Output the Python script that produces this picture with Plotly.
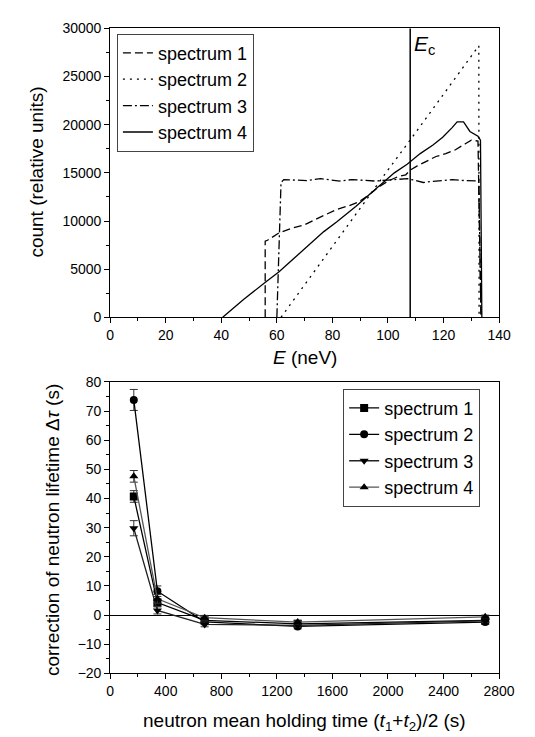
import plotly.graph_objects as go

# ---------------- top panel data (E in neV, counts) ----------------
s1_E = [55.8, 55.8, 56.6, 60.7, 65.3, 69.9, 73.4, 76.9, 81.5, 86.1, 89.6, 93.1, 96.5, 100.0,
        103.5, 106.4, 108.1, 110.4, 113.9, 117.3, 120.8, 124.3, 127.7, 130.0, 132.4, 133.5]
s1_C = [0, 7900, 8000, 8750, 9250, 9600, 10100, 10600, 11200, 11600, 12000, 12700, 13500, 14150,
        14600, 14800, 15300, 15700, 16200, 16700, 17000, 17400, 18000, 18400, 18300, 0]

s2_E = [61.5, 70.0, 80.0, 90.0, 100.0, 110.0, 120.0, 132.7, 132.8]
s2_C = [0, 3400, 7300, 11300, 15300, 19200, 23200, 28200, 0]

s3_E = [60.0, 61.5, 62.5, 67.6, 71.0, 75.7, 79.0, 82.7, 87.0, 91.0, 95.4, 100.0, 104.0, 107.0,
        110.0, 112.7, 115.5, 118.5, 123.1, 127.7, 132.7, 133.5]
s3_C = [0, 14000, 14300, 14250, 14200, 14400, 14250, 14150, 14300, 14200, 14150, 14250, 14300, 14400,
        14200, 14000, 14100, 14150, 14300, 14200, 14150, 0]

s4_E = [40.5, 48.0, 56.1, 60.7, 65.3, 71.1, 76.9, 81.5, 88.4, 93.1, 97.7, 102.3, 106.9, 111.6,
        116.2, 119.7, 123.1, 124.9, 127.2, 129.5, 132.4, 133.3, 133.8]
s4_C = [0, 1850, 3700, 4700, 5900, 7400, 8900, 9900, 11500, 12700, 13800, 15000, 15900, 17000,
        17900, 18700, 19700, 20300, 20300, 19300, 18800, 18400, 0]

E_c = 108.0

# ---------------- bottom panel data ----------------
t_hold = [170, 340, 680, 1350, 2700]
d1 = [40.7, 4.3, -1.8, -3.0, -1.8]
d2 = [73.8, 8.2, -2.3, -3.9, -2.4]
d3 = [29.8, 1.6, -3.2, -3.5, -2.0]
d4 = [47.6, 5.6, -0.9, -2.4, -0.6]
e1 = [2.0, 1.2, 0.8, 0.6, 0.6]
e2 = [3.6, 1.8, 1.0, 0.8, 0.8]
e3 = [2.6, 1.2, 0.8, 0.6, 0.6]
e4 = [2.0, 1.5, 0.8, 0.6, 0.6]

names = ["spectrum 1", "spectrum 2", "spectrum 3", "spectrum 4"]

FONT = "Liberation Sans, Arial, sans-serif"
fig = go.Figure()

top_styles = ["8px,4px", "2px,5px", "9px,3px,2px,3px", "solid"]
for E, C, dash, nm in zip([s1_E, s2_E, s3_E, s4_E], [s1_C, s2_C, s3_C, s4_C], top_styles, names):
    fig.add_trace(go.Scatter(x=E, y=C, mode="lines", name=nm,
                             line=dict(color="black", width=1.3, dash=dash),
                             xaxis="x", yaxis="y", legend="legend"))

symbols = ["square", "circle", "triangle-down", "triangle-up"]
lcols = ["black", "black", "#222222", "#555555"]
for D, Er, sym, col, nm in zip([d1, d2, d3, d4], [e1, e2, e3, e4], symbols, lcols, names):
    fig.add_trace(go.Scatter(x=t_hold, y=D, mode="lines+markers", name=nm,
                             line=dict(color=col, width=1.3),
                             marker=dict(symbol=sym, size=8, color="black"),
                             error_y=dict(type="data", array=Er, visible=True,
                                          color="#333333", thickness=1, width=4),
                             xaxis="x2", yaxis="y2", legend="legend2"))

W, H = 535, 737
xl, xr = 102 / W, 506 / W
top_dom = [1 - 308 / H, 1 - 12.7 / H]
bot_dom = [1 - 672 / H, 1 - 374 / H]

axis_common = dict(showline=True, linecolor="black", linewidth=1, mirror=True,
                   ticks="outside", ticklen=5, tickwidth=1, tickcolor="black",
                   showgrid=False, zeroline=False, tickformat="d",
                   tickfont=dict(family=FONT, size=14, color="black"))

fig.update_layout(
    width=W, height=H,
    margin=dict(l=0, r=0, t=0, b=0),
    paper_bgcolor="white", plot_bgcolor="white",
    font=dict(family=FONT, color="black"),
    showlegend=True,
    xaxis=dict(domain=[xl, xr], anchor="y", range=[0, 140], dtick=20,
               minor=dict(ticks="outside", ticklen=3, dtick=10, tickcolor="black"), **axis_common),
    yaxis=dict(domain=top_dom, anchor="x", range=[0, 30000], dtick=5000,
               minor=dict(ticks="outside", ticklen=3, dtick=2500, tickcolor="black"), **axis_common),
    xaxis2=dict(domain=[xl, xr], anchor="y2", range=[0, 2800], dtick=400,
                minor=dict(ticks="outside", ticklen=3, dtick=200, tickcolor="black"), **axis_common),
    yaxis2=dict(domain=bot_dom, anchor="x2", range=[-20, 80], dtick=10,
                minor=dict(ticks="outside", ticklen=3, dtick=5, tickcolor="black"), **axis_common),
    legend=dict(x=109 / W, y=1 - 18 / H, xanchor="left", yanchor="top",
                bgcolor="white", bordercolor="#444444", borderwidth=1,
                font=dict(family=FONT, size=18, color="black"), tracegroupgap=0),
    legend2=dict(x=344 / W, y=1 - 381 / H, xanchor="left", yanchor="top",
                 bgcolor="white", bordercolor="#444444", borderwidth=1,
                 font=dict(family=FONT, size=18, color="black"), tracegroupgap=0),
)

# zero line in bottom panel
fig.update_layout(yaxis2_zeroline=True, yaxis2_zerolinecolor="black", yaxis2_zerolinewidth=1)

# E_c vertical line
fig.add_shape(type="line", x0=E_c, x1=E_c, y0=0, y1=1, xref="x", yref="y domain",
              line=dict(color="black", width=1.5))
fig.add_annotation(x=E_c, y=1 - 30 / H, xref="x", yref="paper", xanchor="left", yanchor="middle",
                   xshift=2, text="<i>E</i><sub>c</sub>", showarrow=False,
                   font=dict(family=FONT, size=21, color="black"))

# axis titles
fig.add_annotation(x=(102 + 506) / 2 / W, y=1 - 349 / H, xref="paper", yref="paper",
                   text="<i>E</i> (neV)", showarrow=False, xanchor="center", yanchor="middle",
                   font=dict(family=FONT, size=19, color="black"))
fig.add_annotation(x=25 / W, y=1 - 160 / H, xref="paper", yref="paper", textangle=-90,
                   text="count (relative units)", showarrow=False, xanchor="center", yanchor="middle",
                   font=dict(family=FONT, size=19, color="black"))
fig.add_annotation(x=(102 + 506) / 2 / W, y=1 - 722 / H, xref="paper", yref="paper",
                   text="neutron mean holding time (<i>t</i><sub>1</sub>+<i>t</i><sub>2</sub>)/2 (s)",
                   showarrow=False, xanchor="center", yanchor="middle",
                   font=dict(family=FONT, size=19, color="black"))
fig.add_annotation(x=42 / W, y=1 - 525 / H, xref="paper", yref="paper", textangle=-90,
                   text="correction of neutron lifetime Δ<i>τ</i> (s)", showarrow=False,
                   xanchor="center", yanchor="middle",
                   font=dict(family=FONT, size=19, color="black"))

fig.write_html("out.html")
